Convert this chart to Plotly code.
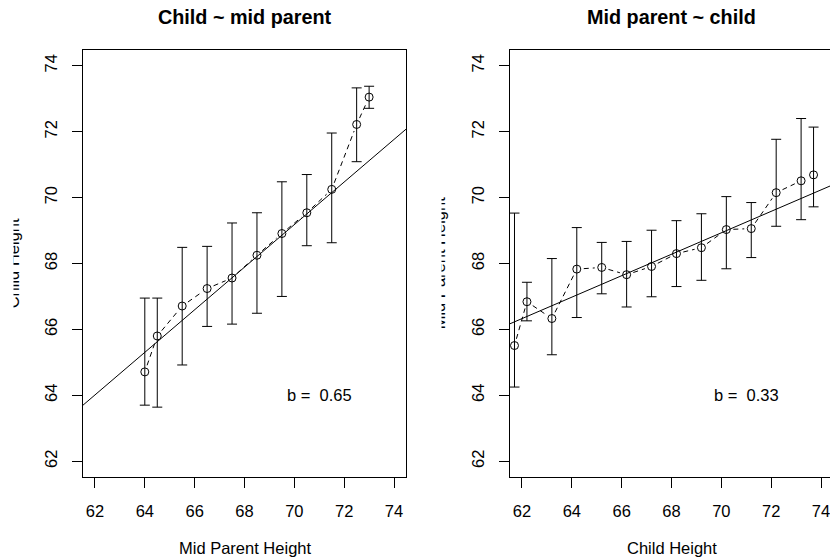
import math
import plotly.graph_objects as go

# ---------------- data ----------------
# Panel 1: child height grouped by mid-parent height
mp_x = [64.0, 64.5, 65.5, 66.5, 67.5, 68.5, 69.5, 70.5, 71.5, 72.5, 73.0]
mp_mean = [64.71, 65.80, 66.71, 67.24, 67.56, 68.25, 68.91, 69.54, 70.25, 72.22, 73.05]
mp_upper = [66.95, 66.95, 68.49, 68.52, 69.23, 69.54, 70.48, 70.70, 71.96, 73.33, 73.38]
mp_lower = [63.70, 63.64, 64.92, 66.09, 66.16, 66.49, 67.00, 68.54, 68.63, 71.09, 72.71]
fit1 = [23.94, 0.6463]   # intercept, slope  (child ~ mid parent)
b1_label = "b =\u00a0 0.65"

# Panel 2: mid-parent height grouped by child height
ch_x = [61.7, 62.2, 63.2, 64.2, 65.2, 66.2, 67.2, 68.2, 69.2, 70.2, 71.2, 72.2, 73.2, 73.7]
ch_mean = [65.51, 66.84, 66.33, 67.83, 67.88, 67.66, 67.91, 68.30, 68.48, 69.03, 69.06, 70.15, 70.51, 70.69]
ch_upper = [69.53, 67.43, 68.15, 69.09, 68.64, 68.67, 69.01, 69.30, 69.51, 70.03, 69.85, 71.77, 72.40, 72.14]
ch_lower = [64.25, 66.26, 65.23, 66.36, 67.08, 66.68, 66.99, 67.30, 67.49, 67.84, 68.18, 69.13, 69.33, 69.72]
fit2 = [46.14, 0.3256]   # intercept, slope  (mid parent ~ child)
b2_label = "b =\u00a0 0.33"

tick_vals = [62, 64, 66, 68, 70, 72, 74]
titles = ["Child ~ mid parent", "Mid parent ~ child"]
xtitles = ["Mid Parent Height", "Child Height"]
ytitles = ["Child Height", "Mid Parent Height"]

# ---------------- layout geometry ----------------
W, H = 830, 559
FONT = "Liberation Sans, Arial, Helvetica, sans-serif"
FS = 16.5
lim = [61.52, 74.48]
box_w = 323.0
left_px = [83, 406]
right_px = [510, 830]
top_px, bot_px = 50, 477
xscale = box_w / (lim[1] - lim[0])
yscale = (bot_px - top_px) / (lim[1] - lim[0])
right_end = lim[0] + (right_px[1] - right_px[0]) / xscale

fig = go.Figure()


def gap_segments(x, y, gap=7.0):
    xs, ys = [], []
    for i in range(len(x) - 1):
        dx = (x[i + 1] - x[i]) * xscale
        dy = (y[i + 1] - y[i]) * yscale
        d = math.hypot(dx, dy)
        if d <= 2 * gap:
            continue
        f = gap / d
        xs += [x[i] + (x[i + 1] - x[i]) * f, x[i + 1] - (x[i + 1] - x[i]) * f, None]
        ys += [y[i] + (y[i + 1] - y[i]) * f, y[i + 1] - (y[i + 1] - y[i]) * f, None]
    return xs, ys


def add_panel(x, mean, up, lo, fit, xa, ya):
    # regression line (abline), clipped by the axes
    lx = [55, 80]
    fig.add_trace(go.Scatter(x=lx, y=[fit[0] + fit[1] * v for v in lx], mode="lines",
                             line=dict(color="black", width=1), xaxis=xa, yaxis=ya,
                             hoverinfo="skip", showlegend=False))
    # dashed connecting line with gaps at points (type = "b")
    gx, gy = gap_segments(x, mean)
    fig.add_trace(go.Scatter(x=gx, y=gy, mode="lines",
                             line=dict(color="black", width=1, dash="5px,4px"),
                             xaxis=xa, yaxis=ya, hoverinfo="skip", showlegend=False))
    # points with error bars
    fig.add_trace(go.Scatter(
        x=x, y=mean, mode="markers",
        marker=dict(symbol="circle-open", size=8, color="black", line=dict(width=1, color="black")),
        error_y=dict(type="data", symmetric=False,
                     array=[u - m for u, m in zip(up, mean)],
                     arrayminus=[m - l for l, m in zip(lo, mean)],
                     color="black", thickness=1, width=5),
        xaxis=xa, yaxis=ya, showlegend=False))


add_panel(mp_x, mp_mean, mp_upper, mp_lower, fit1, "x", "y")
add_panel(ch_x, ch_mean, ch_upper, ch_lower, fit2, "x2", "y2")

ydom = [1 - bot_px / H, 1 - top_px / H]
axis_common = dict(showgrid=False, zeroline=False, showline=True, linecolor="black", linewidth=1,
                   ticks="outside", ticklen=10, tickwidth=1, tickcolor="black",
                   tickvals=tick_vals, tickfont=dict(family=FONT, size=FS, color="black"))

fig.update_layout(
    width=W, height=H, autosize=False,
    margin=dict(l=0, r=0, t=0, b=0, pad=0),
    paper_bgcolor="white", plot_bgcolor="white",
    showlegend=False,
    xaxis=dict(domain=[left_px[0] / W, left_px[1] / W], range=lim, mirror=True,
               ticklabelstandoff=9, anchor="y", **axis_common),
    yaxis=dict(domain=ydom, range=lim, mirror=True, tickangle=-90,
               ticklabelstandoff=8, anchor="x", **axis_common),
    xaxis2=dict(domain=[right_px[0] / W, right_px[1] / W], range=[lim[0], right_end], mirror=True,
                ticklabelstandoff=9, anchor="y2", ticklabeloverflow="allow", **axis_common),
    yaxis2=dict(domain=ydom, range=lim, mirror=False, tickangle=-90,
                ticklabelstandoff=8, anchor="x2", **axis_common),
)

ann = []
centers = [(left_px[0] + left_px[0] + box_w) / 2, (right_px[0] + right_px[0] + box_w) / 2]
for i in range(2):
    ann.append(dict(text="<b>%s</b>" % titles[i], x=centers[i] / W, y=1 - 17 / H,
                    xref="paper", yref="paper", xanchor="center", yanchor="middle",
                    showarrow=False, font=dict(family=FONT, size=19.8, color="black")))
    ann.append(dict(text=xtitles[i], x=centers[i] / W, y=1 - 547.5 / H,
                    xref="paper", yref="paper", xanchor="center", yanchor="middle",
                    showarrow=False, font=dict(family=FONT, size=FS, color="black")))
# y axis titles (partly clipped in the original)
ycen = 1 - ((top_px + bot_px) / 2) / H
ann.append(dict(text=ytitles[0], x=12.8 / W, y=ycen, xref="paper", yref="paper",
                xanchor="center", yanchor="middle", textangle=-90, showarrow=False,
                font=dict(family=FONT, size=FS, color="black")))
ann.append(dict(text=ytitles[1], x=438.8 / W, y=ycen, xref="paper", yref="paper",
                xanchor="center", yanchor="middle", textangle=-90, showarrow=False,
                font=dict(family=FONT, size=FS, color="black")))
# b labels
ann.append(dict(text=b1_label, x=71, y=64, xref="x", yref="y", showarrow=False,
                font=dict(family=FONT, size=FS, color="black")))
ann.append(dict(text=b2_label, x=71, y=64, xref="x2", yref="y2", showarrow=False,
                font=dict(family=FONT, size=FS, color="black")))
# white masks reproducing the clipping of the y titles
ann.append(dict(text=" ", x=0, y=ycen, xref="paper", yref="paper", xanchor="left",
                yanchor="middle", width=12, height=260, bgcolor="white", borderpad=0,
                showarrow=False))
ann.append(dict(text=" ", x=418 / W, y=ycen, xref="paper", yref="paper", xanchor="left",
                yanchor="middle", width=22, height=260, bgcolor="white", borderpad=0,
                showarrow=False))
fig.update_layout(annotations=ann)

fig.write_html("out.html")
